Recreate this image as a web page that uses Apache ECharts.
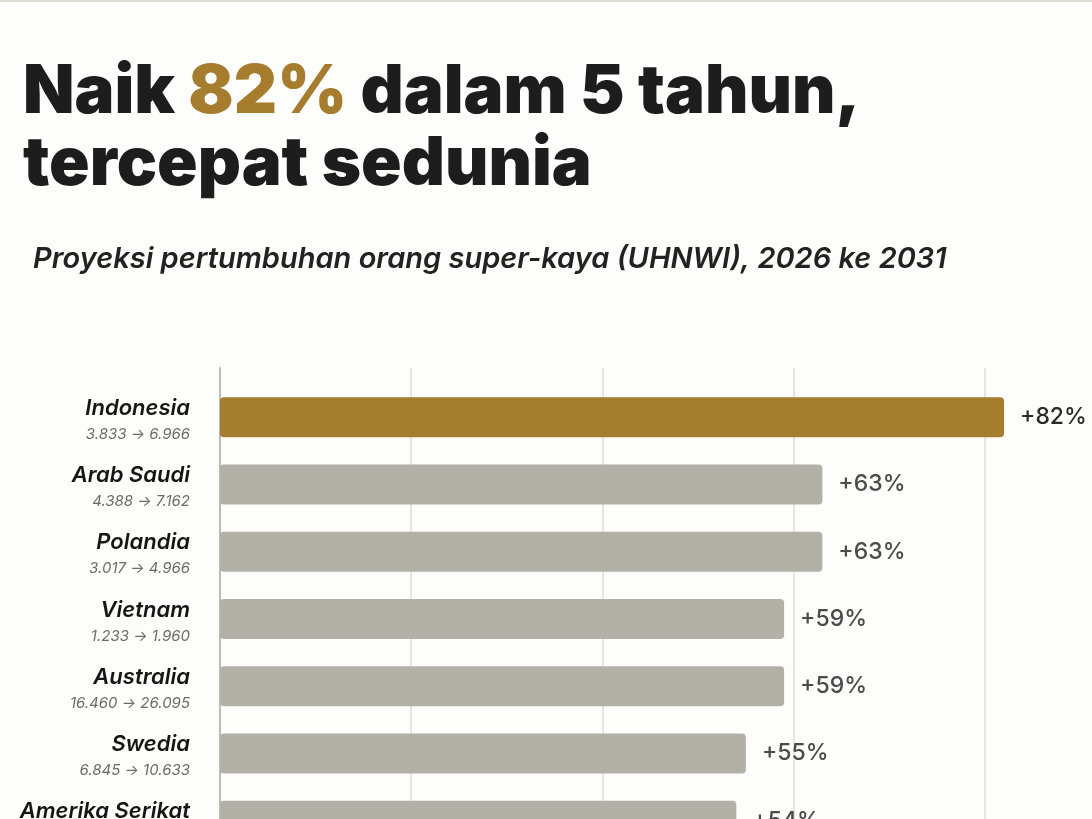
<!DOCTYPE html>
<html lang="id">
<head>
    <meta charset="UTF-8">
    <title>Naik 82% dalam 5 tahun</title>
    <script src="https://cdn.jsdelivr.net/npm/echarts@6/dist/echarts.min.js"></script>
    <style>
        html, body { margin: 0; padding: 0; background: #fdfdfc; }
        #chart { width: 1092px; height: 819px; }
    </style>
</head>
<body>
<div id="chart"></div>
<script type="text/javascript">
    // data
    var countries = ['Indonesia', 'Arab Saudi', 'Polandia', 'Vietnam', 'Australia', 'Swedia', 'Amerika Serikat'];
    var uhnwi2026 = ['3.833', '4.388', '3.017', '1.233', '16.460', '6.845', ''];
    var uhnwi2031 = ['6.966', '7.162', '4.966', '1.960', '26.095', '10.633', ''];
    var growth = [82, 63, 63, 59, 59, 55, 54];
    var gridTicks = [0, 20, 40, 60, 80];

    var GOLD = '#a67c2e';
    var GREY = '#b3b0a8';
    var AXIS_MAX = 91.2; // right edge of the picture

    var myChart = echarts.init(document.getElementById('chart'));

    var option = {
        backgroundColor: '#fdfdfc',
        animation: false,
        title: [{
            left: 18,
            top: 52,
            text: '{a|Naik }{g|82%}{a| dalam 5 tahun,}\n{a|tercepat sedunia}',
            textStyle: {
                rich: {
                    a: { fontFamily: 'Inter', fontWeight: 900, fontSize: 67, color: '#1d1d1d', lineHeight: 72 },
                    g: { fontFamily: 'Inter', fontWeight: 900, fontSize: 67, color: GOLD, lineHeight: 72 }
                }
            }
        }, {
            left: 28,
            top: 240,
            text: 'Proyeksi pertumbuhan orang super-kaya (UHNWI), 2026 ke 2031',
            textStyle: { fontFamily: 'Inter', fontStyle: 'italic', fontWeight: 600, fontSize: 29, color: '#222' }
        }],
        grid: [
            // grid for the vertical gridlines, starts a bit above the first bar
            { left: 220, right: 0, top: 368, bottom: 0, outerBoundsMode: 'none' },
            // grid for the bars, runs past the bottom of the picture
            { left: 220, right: 0, top: 383.5, height: 471, outerBoundsMode: 'none' }
        ],
        xAxis: [{
            gridIndex: 0,
            type: 'value',
            min: 0,
            max: AXIS_MAX,
            interval: gridTicks[1] - gridTicks[0],
            axisLine: { show: false },
            axisTick: { show: false },
            axisLabel: { show: false },
            splitLine: { show: true, showMinLine: false, showMaxLine: false, lineStyle: { color: '#dcdcda', width: 1.5 } }
        }, {
            gridIndex: 1,
            type: 'value',
            min: 0,
            max: AXIS_MAX,
            show: false,
            splitLine: { show: false }
        }],
        yAxis: [{
            gridIndex: 0,
            type: 'value',
            min: 0,
            max: 1,
            axisLine: { show: true, lineStyle: { color: '#bdbab4', width: 2 } },
            axisTick: { show: false },
            axisLabel: { show: false },
            splitLine: { show: false }
        }, {
            gridIndex: 1,
            type: 'category',
            inverse: true,
            data: countries,
            axisLine: { show: false },
            axisTick: { show: false },
            axisLabel: {
                margin: 30,
                padding: [8, 0, 0, 0],
                formatter: function (value, idx) {
                    var nums = uhnwi2026[idx] ? uhnwi2026[idx] + ' \u2192 ' + uhnwi2031[idx] : '';
                    return '{n|' + value + '}\n{v|' + nums + '}';
                },
                rich: {
                    n: { fontFamily: 'Inter', fontStyle: 'italic', fontWeight: 600, fontSize: 22, color: '#151515', lineHeight: 26, align: 'right' },
                    v: { fontFamily: 'Inter', fontStyle: 'italic', fontSize: 15, color: '#6b6b6b', lineHeight: 26, align: 'right' }
                }
            }
        }],
        series: [{
            type: 'bar',
            xAxisIndex: 1,
            yAxisIndex: 1,
            barWidth: 40,
            data: growth.map(function (v, i) {
                return {
                    value: v,
                    itemStyle: { color: i === 0 ? GOLD : GREY, borderRadius: 4 },
                    label: { color: i === 0 ? '#2a2a2a' : '#4a4a4a' }
                };
            }),
            label: {
                show: true,
                position: 'right',
                distance: 16,
                fontFamily: 'Inter',
                fontWeight: 500,
                fontSize: 23,
                formatter: function (p) { return '+' + p.value + '%'; }
            }
        }],
        graphic: [{
            type: 'rect',
            shape: { x: 0, y: 0, width: 1092, height: 2 },
            style: { fill: '#dcdad3' }
        }]
    };

    myChart.setOption(option);
</script>
</body>
</html>
